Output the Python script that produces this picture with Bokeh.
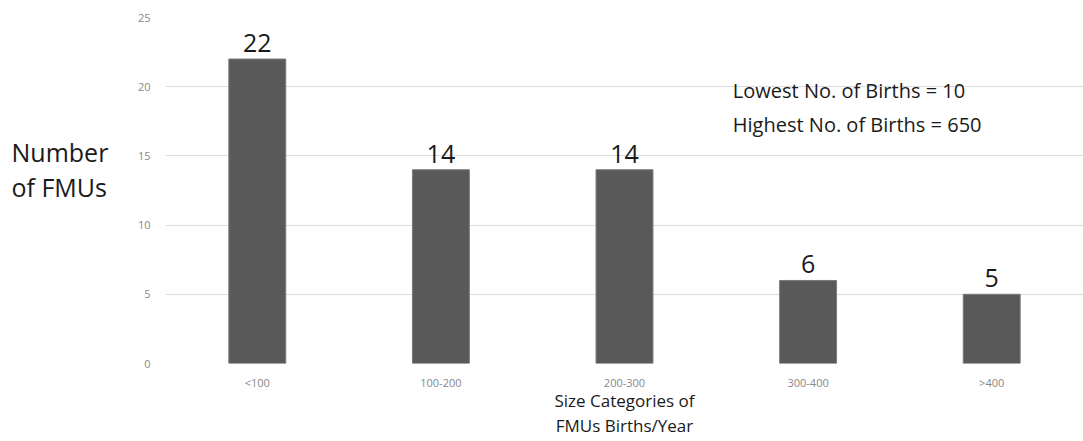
from bokeh.plotting import figure
from bokeh.layouts import row
from bokeh.models import ColumnDataSource, Label, FactorRange, Range1d, FixedTicker
from bokeh.embed import file_html
from bokeh.resources import INLINE
from bokeh.core.properties import value

categories = ["<100", "100-200", "200-300", "300-400", ">400"]
counts = [22, 14, 14, 6, 5]
y_ticks = [0, 5, 10, 15, 20, 25]
note_lines = ["Lowest No. of Births = 10", "Highest No. of Births = 650"]
x_title = "Size Categories of\nFMUs Births/Year"
y_title = ["Number", "of FMUs"]

FONT = "Open Sans"
DARK = "#1a1a1a"

src = ColumnDataSource(dict(cat=categories, n=counts, lbl=[str(c) for c in counts]))
yr = Range1d(0, 25)

LEFT_W = 130
p = figure(width=1083 - LEFT_W, height=441, x_range=FactorRange(*categories, range_padding=0),
           y_range=yr, output_backend="svg", toolbar_location=None,
           min_border_left=165 - LEFT_W, min_border_right=0, min_border_top=17, min_border_bottom=78)
p.outline_line_color = None
p.background_fill_color = "white"
p.border_fill_color = "white"

p.vbar(x="cat", top="n", width=0.31, source=src, fill_color="#595959", line_color="#7a7a7a", line_width=1)
p.text(x="cat", y="n", text="lbl", source=src, text_align="center", text_baseline="alphabetic",
       y_offset=-16, text_font=value(FONT), text_font_size="25px", text_color=DARK)

p.yaxis.ticker = FixedTicker(ticks=y_ticks)
for ax in (p.xaxis, p.yaxis):
    ax.axis_line_color = None
    ax.major_tick_line_color = None
    ax.minor_tick_line_color = None
    ax.major_label_text_color = "#888888"
    ax.major_label_text_font = FONT
    ax.major_label_text_font_size = "11px"
p.yaxis.major_label_standoff = 9
p.xaxis.major_label_standoff = 5
p.xaxis.axis_label = x_title
p.xaxis.axis_label_text_font = FONT
p.xaxis.axis_label_text_font_size = "17px"
p.xaxis.axis_label_text_font_style = "normal"
p.xaxis.axis_label_text_color = DARK
p.xaxis.axis_label_text_line_height = 1.1
p.xaxis.axis_label_standoff = -4
p.xgrid.grid_line_color = None
p.ygrid.grid_line_color = "#dcdcdc"
p.ygrid.grid_line_width = 1

for t, yv in zip(note_lines, [19.75, 17.3]):
    p.add_layout(Label(x=3.09, y=yv, text=t, text_font=FONT, text_font_size="20px",
                       text_color=DARK, text_baseline="middle", text_align="left"))

# Left strip carrying the horizontal y-axis title
q = figure(width=LEFT_W, height=441, x_range=Range1d(0, LEFT_W), y_range=yr,
           output_backend="svg", toolbar_location=None,
           min_border_left=0, min_border_right=0, min_border_top=17, min_border_bottom=78)
q.outline_line_color = None
q.axis.visible = False
q.grid.visible = False
q.text(x=[11, 11], y=[15.3, 12.75], text=y_title, text_font=value(FONT), text_font_size="25px",
       text_color=DARK, text_baseline="middle", text_align="left")

layout = row(q, p, spacing=0)
open("out.html", "w").write(file_html(layout, INLINE))
